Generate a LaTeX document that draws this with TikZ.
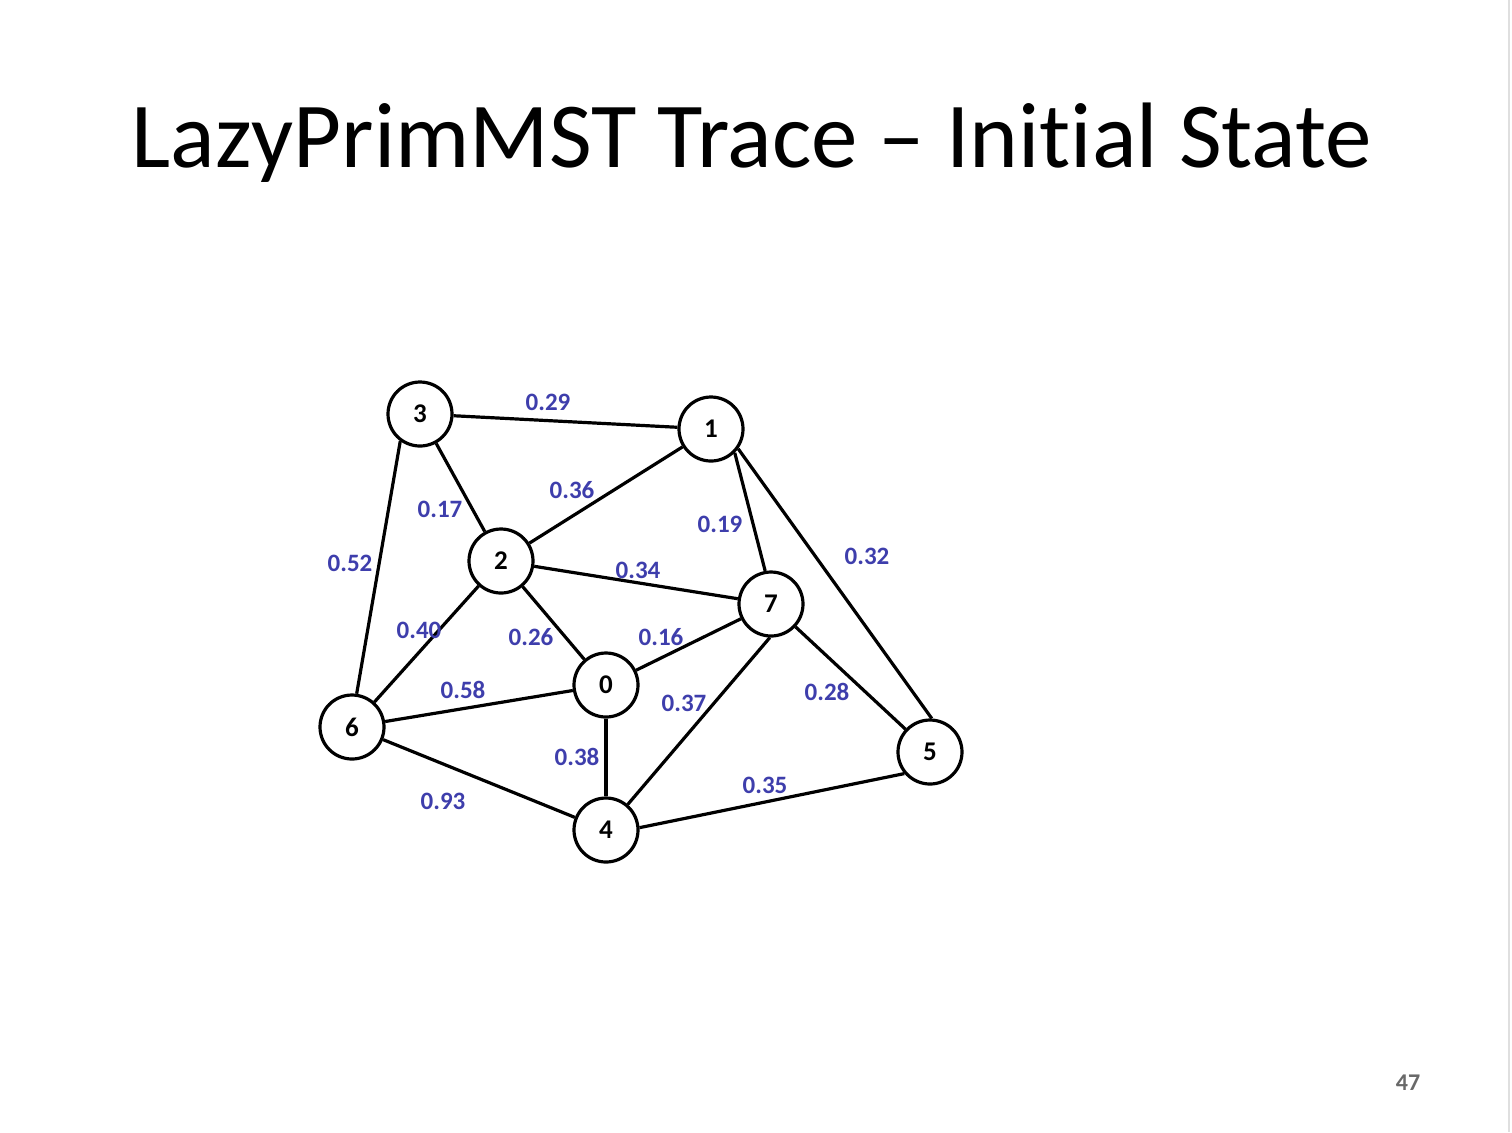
\documentclass[tikz,border=0pt]{standalone}
\usepackage{fontspec}
\setmainfont{Carlito}[Ligatures=NoCommon,RawFeature={-liga;-clig;-dlig;-calt}]
\definecolor{lblblue}{RGB}{62,62,172}
\definecolor{pgnum}{RGB}{105,105,105}
\begin{document}
\begin{tikzpicture}[x=0.5pt,y=-0.5pt,
  vtx/.style={circle,draw=black,line width=1.6pt,fill=white,minimum size=32pt,inner sep=0pt,font=\fontsize{13.5}{14}\selectfont\bfseries},
  edge/.style={line width=1.6pt,black},
  wlabel/.style={font=\fontsize{12.5}{14}\selectfont\bfseries,text=lblblue,inner sep=0pt}]
\useasboundingbox[fill=white] (0,0) rectangle (1512,1132);
\draw[gray!25,line width=1pt] (1509,0) -- (1509,1132);
\node[font=\fontsize{46.5}{50}\selectfont,anchor=base] (title) at (752,167) {LazyPrimMST Trace -- Init\kern0pt ial State};
\node[font=\fontsize{12}{13}\selectfont\bfseries,text=pgnum] (pg) at (1408,1083) {47};
% vertices
\node[vtx] (n3) at (420,414) {3};
\node[vtx] (n1) at (711,429) {1};
\node[vtx] (n2) at (501,561) {2};
\node[vtx] (n7) at (771,604) {7};
\node[vtx] (n0) at (606,685) {0};
\node[vtx] (n6) at (352,727) {6};
\node[vtx] (n5) at (930,752) {5};
\node[vtx] (n4) at (606,830) {4};
% edges
\draw[edge] (n3) -- (n1);
\draw[edge] (n3) -- (n2);
\draw[edge] (n3.234) -- (n6.82);
\draw[edge] (n2) -- (n1);
\draw[edge] (n1.-45) -- (n7.100);
\draw[edge] (n1.-36) -- (n5.87);
\draw[edge] (n2) -- (n7);
\draw[edge] (n2) -- (n6);
\draw[edge] (n2) -- (n0);
\draw[edge] (n0) -- (n7);
\draw[edge] (n6) -- (n0);
\draw[edge] (n0) -- (n4);
\draw[edge] (n6) -- (n4);
\draw[edge] (n7.-92) -- (n4);
\draw[edge] (n7) -- (n5);
\draw[edge] (n4.4) -- (n5.220);
% weights
\node[wlabel] (w31) at (548,402) {0.29};
\node[wlabel] (w21) at (572,490) {0.36};
\node[wlabel] (w32) at (440,509) {0.17};
\node[wlabel] (w17) at (720,524) {0.19};
\node[wlabel] (w36) at (350,563) {0.52};
\node[wlabel] (w27) at (638,570) {0.34};
\node[wlabel] (w15) at (867,556) {0.32};
\node[wlabel] (w26) at (419,630) {0.40};
\node[wlabel] (w20) at (531,637) {0.26};
\node[wlabel] (w07) at (661,637) {0.16};
\node[wlabel] (w60) at (463,690) {0.58};
\node[wlabel] (w74) at (684,703) {0.37};
\node[wlabel] (w75) at (827,692) {0.28};
\node[wlabel] (w04) at (577,757) {0.38};
\node[wlabel] (w45) at (765,785) {0.35};
\node[wlabel] (w64) at (443,801) {0.93};
\end{tikzpicture}
\end{document}
